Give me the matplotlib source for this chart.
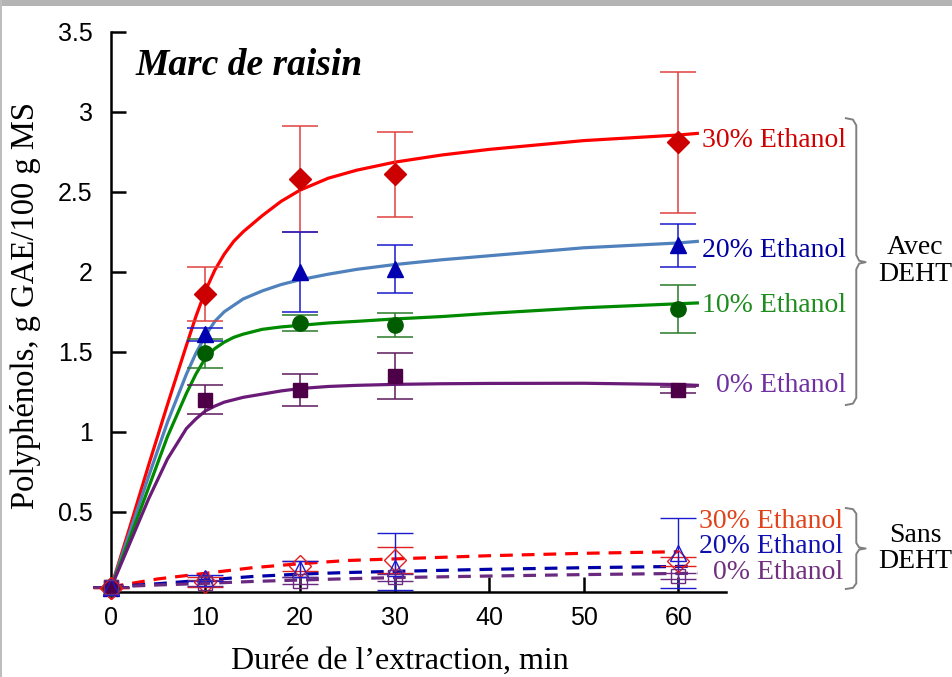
import matplotlib
matplotlib.use('Agg')
import matplotlib.pyplot as plt
from matplotlib.patches import Rectangle

# temps d'extraction (min)
t_pts = [0, 10, 20, 30, 60]

# Avec DEHT - points mesures
eth30 = [0.02, 1.86, 2.58, 2.61, 2.81]
eth30_err = [0, 0.17, 0.33, 0.265, 0.44]
eth20 = [0.02, 1.61, 2.00, 2.015, 2.165]
eth20_err = [0, 0.04, 0.25, 0.15, 0.135]
eth10 = [0.02, 1.49, 1.68, 1.665, 1.77]
eth10_err = [0, 0.09, 0.05, 0.075, 0.15]
eth0 = [0.03, 1.20, 1.26, 1.35, 1.26]
eth0_err = [0, 0.09, 0.10, 0.145, 0.02]

# Sans DEHT - points mesures
s_eth30 = [0.02, 0.06, 0.16, 0.20, 0.19]
s_eth30_err = [0, 0.03, 0.03, 0.08, 0.03]
s_eth20 = [0.03, 0.085, 0.14, 0.15, 0.24]
s_eth20_lo = [0, 0.02, 0.05, 0.14, 0.22]
s_eth20_hi = [0, 0.02, 0.05, 0.22, 0.22]
s_eth0 = [0.03, 0.055, 0.07, 0.09, 0.10]
s_eth0_err = [0, 0.02, 0.02, 0.02, 0.02]

# courbes de modele
fit_t = [0, 2, 4, 6, 8, 9, 10, 11, 12, 13, 14, 16, 18, 20, 23, 26, 30, 35, 40, 50, 60, 62]
fit30 = [0.02, 0.40, 0.79, 1.17, 1.54, 1.72, 1.88, 2.01, 2.11, 2.19, 2.25, 2.35, 2.44, 2.51,
         2.585, 2.635, 2.685, 2.73, 2.765, 2.82, 2.855, 2.865]
fit20 = [0.02, 0.37, 0.72, 1.06, 1.36, 1.49, 1.60, 1.69, 1.75, 1.79, 1.83, 1.88, 1.92, 1.95,
         1.985, 2.015, 2.045, 2.075, 2.10, 2.15, 2.18, 2.19]
fit10 = [0.02, 0.33, 0.65, 0.97, 1.24, 1.36, 1.46, 1.52, 1.56, 1.59, 1.61, 1.64, 1.655, 1.665,
         1.68, 1.69, 1.705, 1.72, 1.74, 1.775, 1.80, 1.805]
fit0 = [0.02, 0.30, 0.58, 0.83, 1.02, 1.08, 1.13, 1.16, 1.185, 1.20, 1.215, 1.235, 1.255, 1.27,
        1.283, 1.29, 1.296, 1.30, 1.302, 1.303, 1.295, 1.29]

sfit_t = [0, 5, 10, 15, 20, 25, 30, 40, 50, 60]
sfit30 = [0.03, 0.08, 0.115, 0.15, 0.175, 0.195, 0.205, 0.225, 0.24, 0.25]
sfit20 = [0.03, 0.05, 0.073, 0.095, 0.11, 0.12, 0.127, 0.14, 0.15, 0.158]
sfit0 = [0.03, 0.042, 0.052, 0.064, 0.073, 0.081, 0.088, 0.098, 0.107, 0.114]

serif = ['Liberation Serif', 'DejaVu Serif']
plt.rcParams['font.family'] = ['Liberation Sans', 'DejaVu Sans']

fig = plt.figure(figsize=(9.52, 6.77), dpi=100)
ax = fig.add_axes([0.1163, 0.126, 0.646, 0.827])

# cadre gris (ombre) en haut et a gauche
fig.patches.append(Rectangle((0, 1 - 6 / 677), 1, 6 / 677, transform=fig.transFigure,
                             facecolor='#b4b4b4', edgecolor='none'))
fig.patches.append(Rectangle((0, 0), 2 / 952, 1, transform=fig.transFigure,
                             facecolor='#bdbdbd', edgecolor='none'))

# courbes pleines
ax.plot(fit_t, fit30, color='#ff0000', lw=2.3, zorder=3)
ax.plot(fit_t, fit20, color='#4f81bd', lw=2.3, zorder=3)
ax.plot(fit_t, fit10, color='#008a00', lw=2.3, zorder=3)
ax.plot(fit_t, fit0, color='#6a1b78', lw=2.3, zorder=3)

# courbes pointillees
ax.plot(sfit_t, sfit30, color='#ff0000', lw=2.3, dashes=(4, 2.8), zorder=3)
ax.plot(sfit_t + [61], sfit20 + [0.159], color='#0000a8', lw=2.3, dashes=(4, 2.8), zorder=3)
ax.plot(sfit_t + [62], sfit0 + [0.116], color='#6a2a80', lw=2.3, dashes=(4, 2.8), zorder=3)

eb = dict(capsize=13, elinewidth=1.1, capthick=1.1, linestyle='none', clip_on=False, zorder=4)
ax.errorbar(t_pts, eth30, yerr=eth30_err, marker='D', ms=11, color='#cc0000', ecolor='#e04040', **eb)
ax.errorbar(t_pts, eth20, yerr=eth20_err, marker='^', ms=12, color='#0000b0', ecolor='#1a1acc', **eb)
ax.errorbar(t_pts, eth10, yerr=eth10_err, marker='o', ms=11, color='#005c00', ecolor='#2a7a2a', **eb)
ax.errorbar(t_pts, eth0, yerr=eth0_err, marker='s', ms=10, color='#4d0048', ecolor='#5e1a5e', **eb)

eb2 = dict(capsize=13, elinewidth=1.0, capthick=1.0, linestyle='none', clip_on=False, zorder=4,
           mfc='none', mew=1.0)
ax.errorbar(t_pts, s_eth30, yerr=s_eth30_err, marker='D', ms=11, color='#e02020', **eb2)
ax.errorbar(t_pts, s_eth20, yerr=[s_eth20_lo, s_eth20_hi], marker='^', ms=11, color='#1a1ad0', **eb2)
ax.errorbar(t_pts, s_eth0, yerr=s_eth0_err, marker='s', ms=10, color='#6a2a80', **eb2)

ax.set_xlim(0, 65)
ax.set_ylim(0, 3.5)
ax.set_xticks([0, 10, 20, 30, 40, 50, 60])
ax.set_yticks([0.5, 1, 1.5, 2, 2.5, 3, 3.5])
ax.set_yticklabels(['0.5', '1', '1.5', '2', '2.5', '3', '3.5'])
for s in ['top', 'right']:
    ax.spines[s].set_visible(False)
for s in ['left', 'bottom']:
    ax.spines[s].set_linewidth(1.8)
ax.tick_params(axis='both', direction='in', length=11, width=1.8, labelsize=18)
ax.tick_params(axis='x', pad=10)
ax.tick_params(axis='y', pad=13)

ax.set_xlabel('Durée de l’extraction, min', family=serif, fontsize=23)
ax.xaxis.set_label_coords(0.47, -0.098)
ax.set_ylabel('Polyphénols, g GAE/100 g MS', family=serif, fontsize=23.5)
ax.yaxis.set_label_coords(-0.113, 0.512)

ax.text(0.04, 0.94, 'Marc de raisin', transform=ax.transAxes, family=serif,
        fontsize=27, fontweight='bold', fontstyle='italic', va='center', ha='left')

# etiquettes a droite
avec_labels = ['30% Ethanol', '20% Ethanol', '10% Ethanol', '0% Ethanol']
avec_y = [2.82, 2.135, 1.79, 1.29]
avec_col = ['#d00000', '#0000a0', '#1e8c1e', '#7030a0']
for txt, yy, c in zip(avec_labels, avec_y, avec_col):
    ax.text(77.7, yy, txt, color=c, family=serif, fontsize=20, ha='right', va='center',
            clip_on=False)

sans_labels = ['30% Ethanol', '20% Ethanol', '0% Ethanol']
sans_y = [0.44, 0.285, 0.117]
sans_col = ['#e0421a', '#1010b0', '#70307f']
for txt, yy, c in zip(sans_labels, sans_y, sans_col):
    ax.text(77.4, yy, txt, color=c, family=serif, fontsize=20, ha='right', va='center',
            clip_on=False)


def brace(x, y0, y1, ym, w=1.1, h=0.045):
    xs = [x - w, x - 0.35, x, x, x + 0.3, x + w * 0.9, x + 0.3, x, x, x - 0.35, x - w]
    ys = [y1, y1 - h * 0.2, y1 - h, ym + h, ym + h * 0.2, ym, ym - h * 0.2, ym - h,
          y0 + h, y0 + h * 0.2, y0]
    ax.plot(xs, ys, color='#7f7f7f', lw=1.4, clip_on=False)


brace(78.8, 1.167, 2.96, 2.06)
brace(78.8, 0.017, 0.523, 0.27, h=0.035)

ax.text(85.0, 2.07, 'Avec\nDEHT', family=serif, fontsize=20, ha='center', va='center',
        linespacing=1.1, clip_on=False)
ax.text(85.0, 0.27, 'Sans\nDEHT', family=serif, fontsize=20, ha='center', va='center',
        linespacing=1.1, clip_on=False)

fig.savefig('out.png', dpi=100)
